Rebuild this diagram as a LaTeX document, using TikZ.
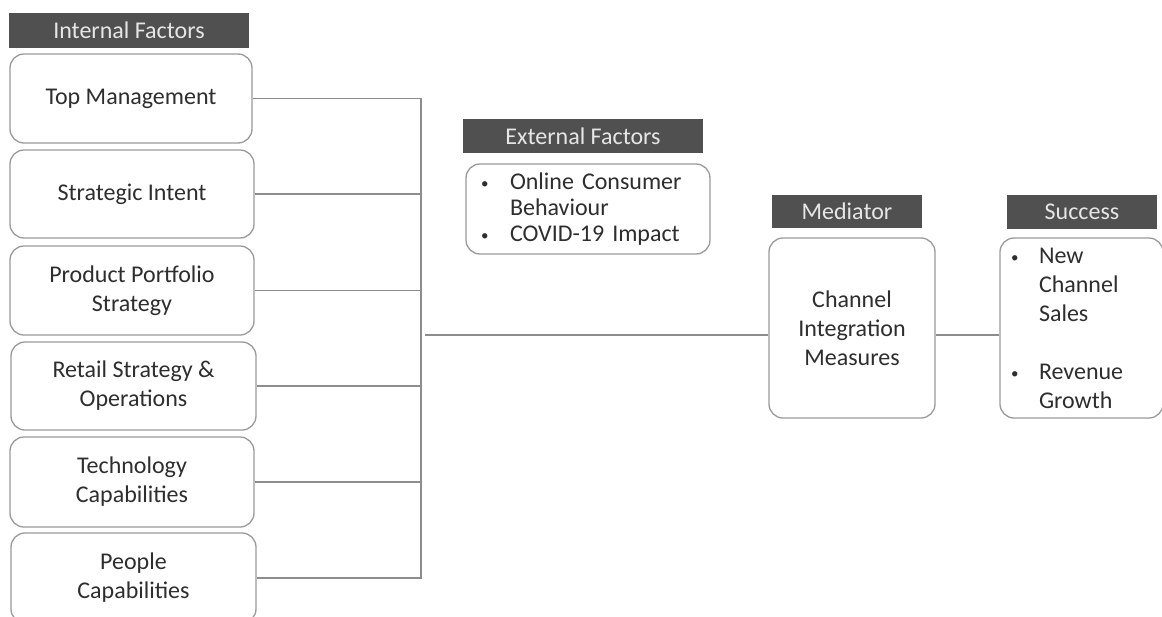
\documentclass[tikz,border=0pt]{standalone}
\usepackage{fontspec}
\setmainfont{Carlito}
\newcommand{\bul}[1]{\makebox[#1][l]{\fontsize{15}{15}\selectfont\raisebox{1pt}{•}}}
\begin{document}
\begin{tikzpicture}[x=1pt,y=-1pt,
  hdr/.style={rectangle, fill=hdrgray, text=hdrtext, inner sep=0pt, font=\fontsize{24}{29}\selectfont},
  box/.style={rectangle, draw=boxgray, line width=1.3pt, rounded corners=14pt, fill=white, inner sep=0pt, align=center, text=txtgray, font=\fontsize{24}{29}\selectfont},
  conn/.style={draw=linegray, line width=1.3pt}
]
\definecolor{hdrgray}{HTML}{505050}
\definecolor{hdrtext}{HTML}{E6E6E6}
\definecolor{boxgray}{HTML}{9A9A9A}
\definecolor{linegray}{HTML}{8C8C8C}
\definecolor{txtgray}{HTML}{2E2E2E}
\useasboundingbox (0,0) rectangle (1162,616);
\fill[white] (0,0) rectangle (1162,616);

% headers
\node[hdr, minimum width=240pt, minimum height=35pt] (hint) at (129,30.5) {Internal Factors};
\node[hdr, minimum width=240pt, minimum height=34pt] (hext) at (583,136) {External Factors};
\node[hdr, minimum width=150pt, minimum height=33pt] (hmed) at (847,211.5) {Mediator};
\node[hdr, minimum width=150pt, minimum height=34pt] (hsuc) at (1082,212) {Success};

% internal factor boxes
\node[box, minimum width=242pt, minimum height=89pt] (b1) at (131,98.5) {Top Management};
\node[box, minimum width=244pt, minimum height=88pt] (b2) at (132,194) {Strategic Intent};
\node[box, minimum width=244pt, minimum height=89pt] (b3) at (132,290.5) {Product Portfolio\\Strategy};
\node[box, minimum width=245pt, minimum height=88pt] (b4) at (133.5,386) {Retail Strategy \&\\Operations};
\node[box, minimum width=244pt, minimum height=90pt] (b5) at (132,482) {Technology\\Capabilities};
\node[box, minimum width=245pt, minimum height=90pt] (b6) at (133.5,578) {People\\Capabilities};

% external factors
\node[box, minimum width=244pt, minimum height=90pt, align=left, text width=214pt, inner xsep=15pt,
  font=\fontsize{24}{26}\selectfont] (ext) at (588,209)
  {\bul{29pt}Online Consumer\\\hspace*{29pt}Behaviour\\\bul{29pt}COVID-19 Impact};

% mediator
\node[box, minimum width=166pt, minimum height=180pt] (med) at (852,328) {Channel\\Integration\\Measures};

% success
\node[box, minimum width=163pt, minimum height=180pt, align=left, text width=141pt, inner xsep=11pt] (suc) at (1081.5,328)
  {\bul{28pt}New\\\hspace*{28pt}Channel\\\hspace*{28pt}Sales\\[29pt]\bul{28pt}Revenue\\\hspace*{28pt}Growth};

% connectors
\coordinate (vtop) at (421,98);
\coordinate (vbot) at (421,579);
\coordinate (jn) at (425,335);
\foreach \b in {b1,b2,b3,b4,b5,b6}{
  \draw[conn] (\b.east) -- (\b.east -| vtop);
}
\draw[conn] (vtop) -- (vbot);
\draw[conn] (jn) -- (jn -| med.west);
\draw[conn] (med.east |- jn) -- (suc.west |- jn);
\end{tikzpicture}
\end{document}
